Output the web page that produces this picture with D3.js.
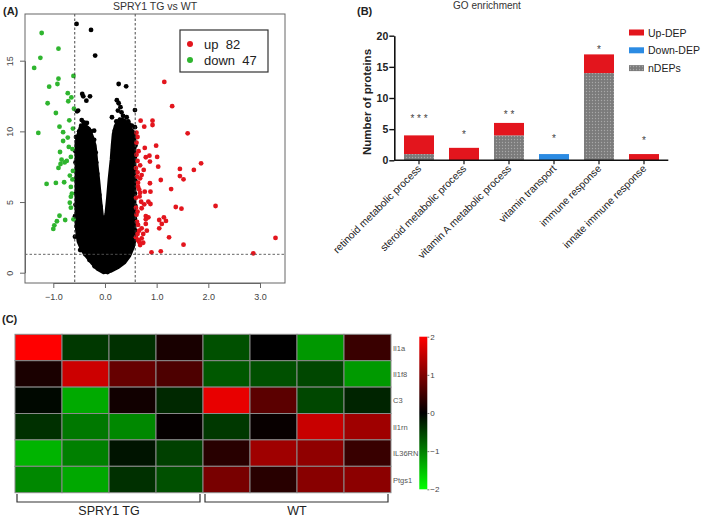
<!DOCTYPE html>
<html><head><meta charset="utf-8">
<script src="https://cdn.jsdelivr.net/npm/d3@7"></script>
<style>
body{margin:0;background:#fff;}
svg{display:block;font-family:"Liberation Sans",Arial,sans-serif;}
</style></head>
<body>
<svg id="fig" width="709" height="518"></svg>
<script>
// ---------- Panel A: volcano plot data (log2FC, -log10 p) ----------
const upPoints = [[1.148,13.5],[1.30,11.78],[0.69,10.76],[0.92,10.76],[0.76,10.33],[0.92,10.45],[1.60,9.86],[0.61,9.91],[0.61,9.20],[0.99,8.99],[0.77,8.83],[0.86,8.28],[0.79,8.17],[1.01,8.19],[0.61,8.35],[0.87,7.86],[0.63,7.91],[1.86,7.74],[1.03,7.50],[1.72,7.27],[1.45,7.34],[0.75,7.27],[1.45,6.84],[1.52,6.61],[0.71,6.91],[0.68,6.68],[1.08,6.56],[0.64,6.37],[0.87,6.33],[0.64,6.09],[1.28,5.92],[0.77,5.73],[0.68,5.66],[0.88,5.73],[0.84,5.02],[0.70,5.02],[0.76,4.84],[0.88,4.86],[1.37,4.65],[1.48,4.53],[2.14,4.72],[0.63,4.32],[0.71,4.56],[0.79,4.01],[0.84,3.92],[0.79,3.78],[1.05,3.73],[1.14,3.92],[1.18,3.66],[1.10,3.45],[0.64,3.38],[0.79,3.45],[0.71,3.14],[1.05,3.14],[0.66,2.97],[0.81,2.97],[0.63,2.74],[0.74,2.74],[1.24,2.50],[0.71,2.43],[0.66,2.19],[0.74,2.12],[0.68,1.96],[1.52,1.98],[3.30,2.46],[0.90,1.44],[1.08,1.51],[2.87,1.37],[0.63,7.10],[0.60,5.30],[0.62,6.80],[0.60,4.60],[0.65,8.60],[0.62,3.60],[0.66,5.90],[0.60,2.50],[0.63,9.60],[0.61,4.10],[0.68,7.60],[0.64,2.30],[0.60,7.40],[0.67,5.40]];
const downPoints = [[-1.225,16.96],[-0.90,15.85],[-1.25,15.2],[-1.37,14.49],[-0.90,13.73],[-0.92,13.35],[-1.08,13.16],[-0.61,13.92],[-0.72,12.70],[-0.65,12.4],[-0.71,12.13],[-1.11,11.99],[-0.95,11.30],[-0.69,10.78],[-0.88,10.33],[-1.29,9.89],[-0.81,9.94],[-0.72,9.56],[-0.81,9.32],[-0.63,8.75],[-0.87,8.54],[-0.84,8.00],[-0.74,7.91],[-0.86,7.69],[-0.90,7.41],[-0.66,8.19],[-0.68,6.87],[-0.79,6.40],[-0.95,6.35],[-1.13,6.28],[-0.66,6.07],[-0.66,5.38],[-0.68,4.95],[-0.88,4.03],[-0.93,3.64],[-0.77,3.73],[-0.98,3.35],[-0.61,3.78],[-1.00,3.1],[-0.62,7.2],[-0.64,5.6],[-0.62,10.2],[-0.70,8.9],[-0.63,6.6],[-0.66,4.6],[-0.60,11.6],[-0.78,7.8]];
// envelope of the dense, overplotted non-significant cloud
const nsCloud = [[-0.03,0.0],[-0.15,0.25],[-0.25,0.65],[-0.35,1.1],[-0.45,1.6],[-0.52,2.2],[-0.55,3.0],[-0.56,4.0],[-0.56,6.0],[-0.56,8.0],[-0.56,9.2],[-0.52,9.8],[-0.48,10.3],[-0.40,10.5],[-0.30,10.2],[-0.24,9.6],[-0.19,9.0],[-0.15,7.5],[-0.12,6.5],[-0.08,5.0],[-0.05,4.0],[-0.02,3.5],[0.02,4.2],[0.05,5.3],[0.08,6.6],[0.12,8.0],[0.14,9.0],[0.16,9.8],[0.20,10.4],[0.28,10.9],[0.38,10.8],[0.48,10.3],[0.55,10.0],[0.58,9.5],[0.58,7.0],[0.58,4.0],[0.58,2.3],[0.55,1.8],[0.48,1.2],[0.38,0.7],[0.25,0.35],[0.12,0.1]];
const nsPoints = [[-0.55,17.6],[-0.27,17.18],[-0.19,15.36],[0.265,13.35],[0.41,13.19],[-0.44,12.65],[-0.42,12.48],[-0.36,12.17],[-0.29,12.48],[0.265,11.99],[0.30,11.71],[0.25,11.47],[0.32,11.35],[-0.54,11.42],[0.58,11.51],[0.135,11.0],[0.29,10.64],[0.32,10.8],[0.45,10.71],[0.47,10.5],[-0.41,10.64],[-0.46,10.4],[-0.34,10.17],[-0.21,10.05],[0.19,10.05],[0.31,9.9],[0.55,9.8],[-0.52,11.47],[-0.53,9.34],[-0.58,2.55],[-0.48,1.6],[-0.58,4.0],[0.23,12.2],[-0.5,10.0],
 [-0.21,9.4],[-0.18,8.5],[-0.17,7.8],[-0.15,7.0],[-0.14,6.2],[-0.11,5.5],[-0.09,4.7],
 [0.18,9.6],[0.16,8.7],[0.15,7.8],[0.13,7.0],[0.11,6.1],[0.09,5.3],[0.07,4.6],
 [-0.56,9.6],[-0.57,8.6],[-0.57,7.8],[-0.57,6.6],[-0.56,5.6],[-0.57,4.8],[-0.55,3.3],[-0.50,2.4],[-0.44,1.9],[-0.38,1.3],[-0.30,0.9],[-0.20,0.45],
 [0.58,10.3],[0.59,9.0],[0.58,8.2],[0.58,7.3],[0.59,6.5],[0.58,5.6],[0.59,4.7],[0.58,3.8],[0.58,3.0],[0.58,2.6],[0.53,1.9],[0.45,1.4],[0.35,0.9],[0.22,0.45],[0.05,0.05],
 [-0.45,10.8],[-0.35,10.6],[-0.27,10.0],[0.22,10.7],[0.35,11.1],[0.42,11.0],[0.52,10.4]];
const fcCut = [-0.585, 0.585];
const pCut = 1.301;
const volcanoXTicks = [-1,0,1,2,3];
const volcanoYTicks = [0,5,10,15];
const legendA = [{label:"up  82", color:"#e3151d"},{label:"down  47", color:"#2fb52f"}];

// ---------- Panel B: GO enrichment ----------
const goTerms = ["retinoid metabolic process","steroid metabolic process","vitamin A metabolic process","vitamin transport","immune response","innate immune response"];
const nDEPs   = [1,0,4,0,14,0];
const downDEP = [0,0,0,1,0,0];
const upDEP   = [3,2,2,0,3,1];
const stars   = ["* * *","*","* *","*","*","*"];
const starLevel = [6.8,4.2,7.4,3.6,17.9,3.3];
const goYTicks = [0,5,10,15,20];

// ---------- Panel C: heatmap ----------
const genes = ["Il1a","Il1f8","C3","Il1rn","IL36RN","Ptgs1"];
const samples = ["TG1","TG2","TG3","TG4","WT1","WT2","WT3","WT4"];
const zValues = [
 [ 2.00,-0.44,-0.38, 0.19,-0.63, 0.00,-1.19, 0.45],
 [ 0.20, 1.60, 0.80, 0.60,-0.69,-0.63,-0.56,-1.21],
 [-0.06,-1.33, 0.13,-0.31, 1.82, 0.71,-0.56,-0.28],
 [-0.38,-0.94,-1.07, 0.04,-0.44, 0.06, 1.57, 1.25],
 [-1.41,-1.00,-0.16,-0.50, 0.31, 1.25, 1.13, 0.44],
 [-1.07,-1.32,-0.38,-0.63, 0.94, 0.31, 1.07, 1.10]];
const keyTicks = [-2,-1,0,1,2];
const groups = [{name:"SPRY1 TG", from:0, to:3},{name:"WT", from:4, to:7}];

// =====================================================================
const svg = d3.select("#fig");
const RED = "#e3151d", GREEN = "#2fb52f", BLUE = "#2b8be3";
const defs = svg.append("defs");

// ---------------- Panel A ----------------
{
  const g = svg.append("g");
  const x = d3.scaleLinear().domain([-1,3]).range([53.3,260]);
  const y = d3.scaleLinear().domain([0,15]).range([272.7,60.7]);
  const box = {x0:25, x1:285, y0:14, y1:283};

  g.append("text").attr("x",3).attr("y",15).attr("font-size",11).attr("font-weight","bold").attr("fill","#222").text("(A)");
  g.append("text").attr("x",155).attr("y",10).attr("text-anchor","middle").attr("font-size",10.5).attr("fill","#333").text("SPRY1 TG vs WT");

  // cloud
  g.append("path").datum(nsCloud)
    .attr("d", d3.line().x(d=>x(d[0])).y(d=>y(d[1])).curve(d3.curveLinearClosed))
    .attr("fill","#000").attr("stroke","#000").attr("stroke-width",3).attr("stroke-linejoin","round");
  g.append("g").selectAll("circle").data(nsPoints).join("circle")
    .attr("cx",d=>x(d[0])).attr("cy",d=>y(d[1])).attr("r",2.4).attr("fill","#000");
  g.append("g").selectAll("circle").data(upPoints).join("circle")
    .attr("cx",d=>x(d[0])).attr("cy",d=>y(d[1])).attr("r",2.4).attr("fill",RED);
  g.append("g").selectAll("circle").data(downPoints).join("circle")
    .attr("cx",d=>x(d[0])).attr("cy",d=>y(d[1])).attr("r",2.4).attr("fill",GREEN);

  // threshold lines
  g.selectAll(".vl").data(fcCut).join("line")
    .attr("x1",d=>x(d)).attr("x2",d=>x(d)).attr("y1",box.y0).attr("y2",box.y1)
    .attr("stroke","#333").attr("stroke-width",0.9).attr("stroke-dasharray","2.5,2");
  g.append("line").attr("x1",box.x0).attr("x2",box.x1).attr("y1",y(pCut)).attr("y2",y(pCut))
    .attr("stroke","#555").attr("stroke-width",0.9).attr("stroke-dasharray","2.5,2");

  // box
  g.append("rect").attr("x",box.x0).attr("y",box.y0).attr("width",box.x1-box.x0).attr("height",box.y1-box.y0)
    .attr("fill","none").attr("stroke","#666").attr("stroke-width",1);

  // axes
  const xa = g.append("g").attr("transform",`translate(0,${box.y1})`)
    .call(d3.axisBottom(x).tickValues(volcanoXTicks).tickSize(5).tickSizeOuter(0));
  xa.select(".domain").attr("stroke","#666");
  xa.selectAll(".tick line").attr("stroke","#666");
  xa.selectAll("text").attr("font-size",9).attr("fill","#444").attr("font-family","Liberation Sans, Arial").attr("dy","1.0em");
  const ya = g.append("g").attr("transform",`translate(${box.x0},0)`)
    .call(d3.axisLeft(y).tickValues(volcanoYTicks).tickSize(5).tickSizeOuter(0));
  ya.select(".domain").attr("stroke","#666");
  ya.selectAll(".tick line").attr("stroke","#666");
  ya.selectAll("text").attr("font-size",9).attr("fill","#444").attr("font-family","Liberation Sans, Arial")
    .attr("transform","rotate(-90)").attr("text-anchor","middle").attr("x",0).attr("y",-12).attr("dy",0);

  // legend
  const lg = g.append("g");
  lg.append("rect").attr("x",180).attr("y",30).attr("width",88).attr("height",42).attr("fill","#fff").attr("stroke","#333").attr("stroke-width",1.2);
  const li = lg.selectAll("g").data(legendA).join("g").attr("transform",(d,i)=>`translate(0,${44+i*16})`);
  li.append("circle").attr("cx",190).attr("cy",0).attr("r",3).attr("fill",d=>d.color);
  li.append("text").attr("x",204).attr("y",4.5).attr("font-size",13).attr("fill","#222").style("white-space","pre").text(d=>d.label);
}

// ---------------- Panel B ----------------
{
  const g = svg.append("g");
  const x = d3.scaleBand().domain(goTerms).range([396.5,666.5]).paddingInner(1/3).paddingOuter(1/6);
  const y = d3.scaleLinear().domain([0,20]).range([160.3,35.7]);

  const pat = defs.append("pattern").attr("id","dots").attr("patternUnits","userSpaceOnUse").attr("width",3).attr("height",3);
  pat.append("rect").attr("width",3).attr("height",3).attr("fill","#7b7b7b");
  pat.append("circle").attr("cx",1.5).attr("cy",1.5).attr("r",0.7).attr("fill","#a8a8a8");

  g.append("text").attr("x",357).attr("y",15).attr("font-size",11).attr("font-weight","bold").attr("fill","#222").text("(B)");
  g.append("text").attr("x",487).attr("y",9).attr("text-anchor","middle").attr("font-size",10).attr("fill","#333").text("GO enrichment");

  const table = goTerms.map((t,i)=>({term:t, nDEPs:nDEPs[i], down:downDEP[i], up:upDEP[i]}));
  const keys = ["nDEPs","down","up"];
  const fills = {nDEPs:"url(#dots)", down:BLUE, up:RED};
  const series = d3.stack().keys(keys)(table);
  g.append("g").selectAll("g").data(series).join("g").attr("fill",s=>fills[s.key])
    .selectAll("rect").data(s=>s).join("rect")
    .attr("x",d=>x(d.data.term)).attr("width",x.bandwidth())
    .attr("y",d=>y(d[1])).attr("height",d=>y(d[0])-y(d[1]));

  // stars
  g.append("g").selectAll("text").data(goTerms).join("text")
    .attr("x",d=>x(d)+x.bandwidth()/2).attr("y",(d,i)=>y(starLevel[i])+4)
    .attr("text-anchor","middle").attr("font-size",10).attr("fill","#444").style("white-space","pre")
    .text((d,i)=>stars[i]);

  // axes
  const ya = g.append("g").attr("transform","translate(394.3,0)")
    .call(d3.axisLeft(y).tickValues(goYTicks).tickSize(5).tickSizeOuter(0));
  ya.select(".domain").attr("stroke","#111").attr("stroke-width",1.6);
  ya.selectAll(".tick line").attr("stroke","#111").attr("stroke-width",1.4);
  ya.selectAll("text").attr("font-size",10.5).attr("font-weight","bold").attr("fill","#222").attr("x",-6);
  const xa = g.append("g").attr("transform",`translate(0,${y(0)})`)
    .call(d3.axisBottom(x).tickSize(4).tickSizeOuter(0).tickFormat(""));
  xa.select(".domain").attr("d",`M${394.3},0H${668.3}`).attr("stroke","#111").attr("stroke-width",1.6);
  xa.selectAll(".tick line").attr("stroke","#111").attr("stroke-width",1.2);
  g.append("g").selectAll("text").data(goTerms).join("text")
    .attr("transform",d=>`translate(${x(d)+x.bandwidth()/2+3},${y(0)+9}) rotate(-45)`)
    .attr("text-anchor","end").attr("font-size",10.3).attr("fill","#222").text(d=>d);

  g.append("text").attr("transform",`translate(371,${(y(0)+y(20))/2+4}) rotate(-90)`)
    .attr("text-anchor","middle").attr("font-size",11.5).attr("font-weight","bold").attr("fill","#222").text("Number of proteins");

  // legend
  const leg = [{k:"up",l:"Up-DEP"},{k:"down",l:"Down-DEP"},{k:"nDEPs",l:"nDEPs"}];
  const lg = g.append("g").selectAll("g").data(leg).join("g").attr("transform",(d,i)=>`translate(629,${32.5+i*17.8})`);
  lg.append("rect").attr("x",0).attr("y",-3).attr("width",15).attr("height",6).attr("fill",d=>fills[d.k]);
  lg.append("text").attr("x",19).attr("y",4).attr("font-size",10.5).attr("fill","#222").text(d=>d.l);
}

// ---------------- Panel C ----------------
{
  const g = svg.append("g");
  const x = d3.scaleBand().domain(samples).range([15,391]);
  const y = d3.scaleBand().domain(genes).range([334.3,492.7]);
  const color = d3.scaleLinear().domain([-2,0,2]).range(["#00ff00","#000000","#ff0000"]).clamp(true);

  g.append("text").attr("x",2).attr("y",323).attr("font-size",11).attr("font-weight","bold").attr("fill","#222").text("(C)");

  const cells = [];
  genes.forEach((gn,r)=>samples.forEach((s,c)=>cells.push({gene:gn, sample:s, v:zValues[r][c]})));
  g.append("g").selectAll("rect").data(cells).join("rect")
    .attr("x",d=>x(d.sample)).attr("y",d=>y(d.gene)).attr("width",x.bandwidth()).attr("height",y.bandwidth())
    .attr("fill",d=>color(d.v)).attr("stroke","#8a8a8a").attr("stroke-width",1);

  g.append("g").selectAll("text").data(genes).join("text")
    .attr("x",393).attr("y",d=>y(d)+y.bandwidth()/2+3).attr("font-size",7.5).attr("fill","#555").text(d=>d);

  // colour key
  const ky = d3.scaleLinear().domain([-2,2]).range([489.3,336.7]);
  const grad = defs.append("linearGradient").attr("id","key").attr("x1",0).attr("x2",0).attr("y1",1).attr("y2",0);
  [-2,0,2].forEach(v=>grad.append("stop").attr("offset",(v+2)/4).attr("stop-color",color(v)));
  g.append("rect").attr("x",419.3).attr("y",ky(2)).attr("width",8).attr("height",ky(-2)-ky(2)).attr("fill","url(#key)");
  const ka = g.append("g").attr("transform","translate(427.3,0)")
    .call(d3.axisRight(ky).tickValues(keyTicks).tickSize(2).tickSizeOuter(0).tickFormat(d3.format("d")));
  ka.select(".domain").remove();
  ka.selectAll(".tick line").attr("stroke","#777");
  ka.selectAll("text").attr("font-size",8).attr("fill","#444").attr("x",3);

  // group brackets
  const br = g.append("g").selectAll("g").data(groups).join("g");
  br.append("path").attr("d",d=>{
      const x0 = x(samples[d.from])+2, x1 = x(samples[d.to])+x.bandwidth()-3;
      return `M${x0},494V502H${x1}V494`;
    }).attr("fill","none").attr("stroke","#333").attr("stroke-width",1.2);
  br.append("text").attr("x",d=>(x(samples[d.from])+x(samples[d.to])+x.bandwidth())/2)
    .attr("y",515).attr("text-anchor","middle").attr("font-size",12.5).attr("fill","#222").text(d=>d.name);
}
</script>
</body></html>
